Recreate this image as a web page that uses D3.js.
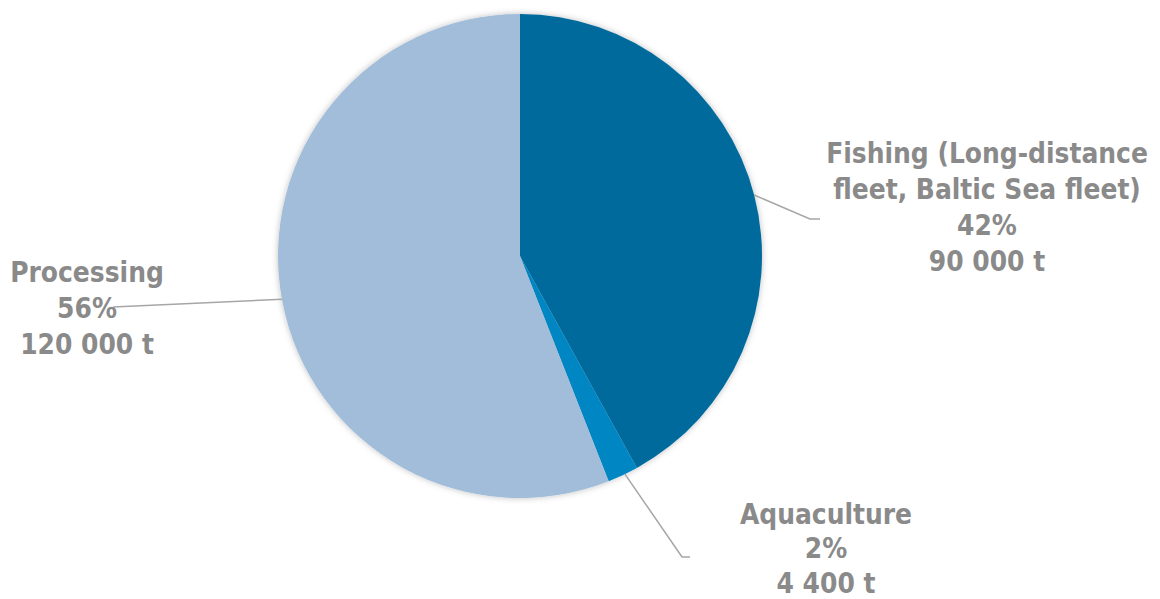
<!DOCTYPE html>
<html><head><meta charset="utf-8">
<script src="https://cdn.jsdelivr.net/npm/d3@7"></script>
<style>body{margin:0;background:#fff}</style>
</head><body>
<svg id="c" width="1160" height="599"></svg>
<script>
const categories = ["Fishing (Long-distance fleet, Baltic Sea fleet)", "Aquaculture", "Processing"];
const values = [90000, 4400, 120000];
const percentLabels = ["42%", "2%", "56%"];
const tonLabels = ["90 000 t", "4 400 t", "120 000 t"];
const labelLines = [["Fishing (Long-distance", "fleet, Baltic Sea fleet)"], ["Aquaculture"], ["Processing"]];
const colors = ["#006b9c", "#0086c3", "#a2bdda"];

const svg = d3.select("#c");
const cx = 520, cy = 256, R = 242;
const defs = svg.append("defs");
const f = defs.append("filter").attr("id","sh").attr("x","-10%").attr("y","-10%").attr("width","120%").attr("height","120%");
f.append("feDropShadow").attr("dx",0).attr("dy",0).attr("stdDeviation",3).attr("flood-color","#000").attr("flood-opacity",0.25);

const data = categories.map((c,i)=>({c, v:values[i], i}));
const pie = d3.pie().value(d=>d.v).sort(null);
const arcs = pie(data);
const arc = d3.arc().innerRadius(0).outerRadius(R);
const g = svg.append("g").attr("transform",`translate(${cx},${cy})`);
g.append("g").attr("filter","url(#sh)").selectAll("path").data(arcs).join("path")
  .attr("d",arc).attr("fill",d=>colors[d.data.i]);

// leader lines & labels (label placement relative to the pie)
const labelCfg = [
  {ang:1.316, lineEnd:[290,-37], elbow:10, tx:467, ty:-103},
  {ang:2.693, lineEnd:[162,301], elbow:8, tx:306, ty:258, gap:34.5},
  {ang:4.533, lineEnd:[-407,51], elbow:0, tx:-433, ty:16}
];
arcs.forEach((a,k)=>{
  const cfg = labelCfg[k];
  const p0 = [Math.sin(cfg.ang)*R, -Math.cos(cfg.ang)*R];
  const p1 = cfg.lineEnd;
  const pts = [p0, p1];
  if (cfg.elbow) pts.push([p1[0]+cfg.elbow, p1[1]]);
  g.append("path").attr("d", d3.line()(pts)).attr("fill","none")
    .attr("stroke","#a6a6a6").attr("stroke-width",1.5);
  const lines = [...labelLines[k], percentLabels[k], tonLabels[k]];
  const t = g.append("text").attr("text-anchor","middle")
    .attr("font-family","'DejaVu Sans Condensed','DejaVu Sans',sans-serif")
    .attr("font-weight","bold").attr("font-size",27.8).attr("fill","#8a8a8a");
  const gap = cfg.gap || 36;
  lines.forEach((s,j)=>{
    t.append("tspan").attr("x",cfg.tx).attr("y",cfg.ty + j*gap).attr("dy","0.35em").text(s);
  });
});
</script>
</body></html>
